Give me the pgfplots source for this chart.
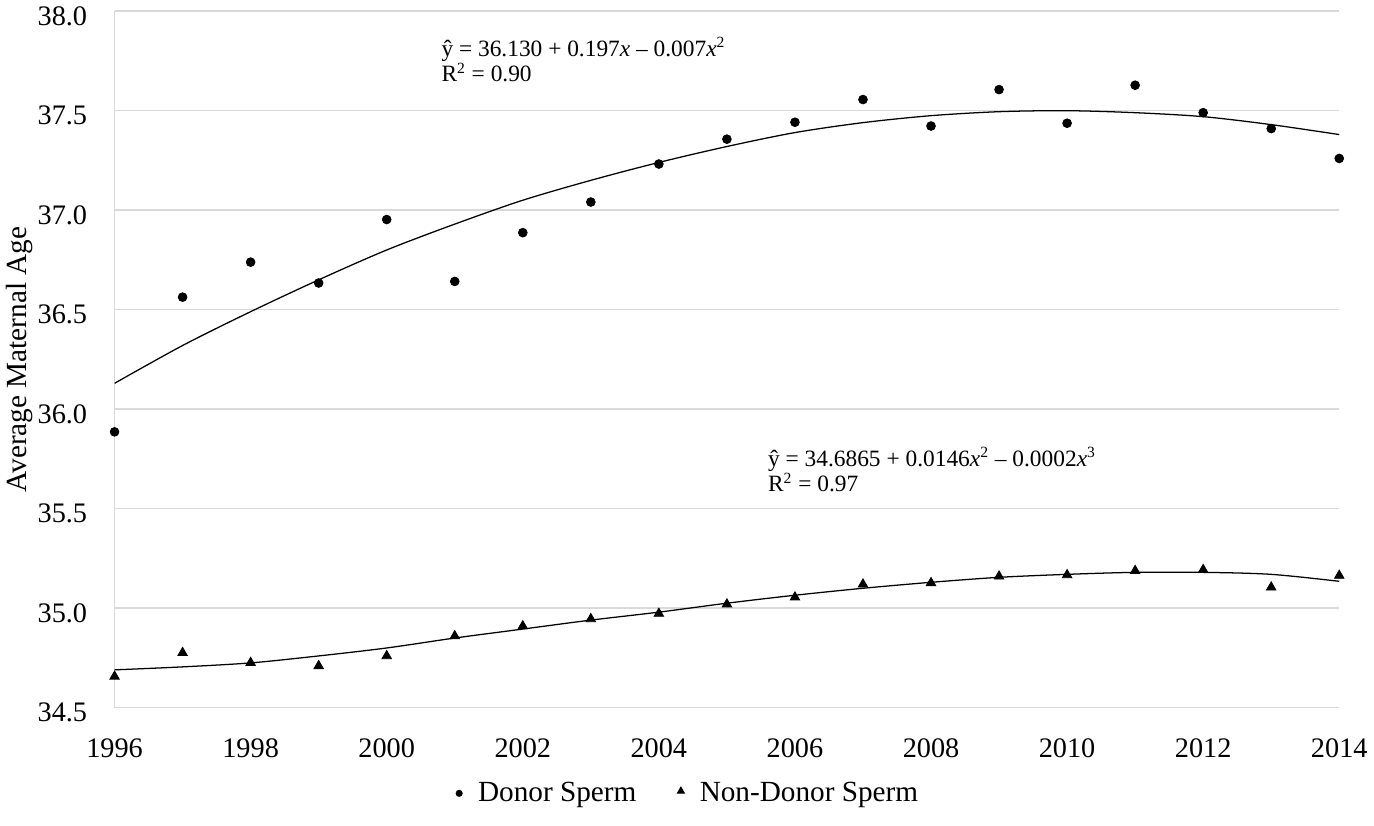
\documentclass[border=0pt]{standalone}
\usepackage{fontspec}
\setmainfont{Liberation Serif}
\usepackage{pgfplots}
\pgfplotsset{compat=1.18}
\definecolor{gridgray}{HTML}{D9D9D9}
\begin{document}
\begin{tikzpicture}
\begin{axis}[
  scale only axis, width=626bp, height=356bp,
  xmin=1996, xmax=2014, ymin=34.5, ymax=38.0,
  xtick={1996,1998,...,2014}, ytick={34.5,35.0,...,38.0},
  axis x line*=bottom, axis y line*=left,
  axis line style={-, draw=gridgray, line width=0.8pt},
  major tick length=0pt,
  ymajorgrids, grid style={draw=gridgray, line width=0.8pt},
  /pgf/number format/assume math mode=true,
  y tick label style={/tikz/xshift=-10.5bp, /tikz/yshift=-2.5bp, /pgf/number format/fixed, /pgf/number format/fixed zerofill, /pgf/number format/precision=1},
  x tick label style={/tikz/yshift=-12.5bp, /pgf/number format/1000 sep={}},
  ticklabel style={font=\fontsize{14.5}{16}\selectfont},
  ylabel={Average Maternal Age},
  ylabel shift=-4.5bp,
  ylabel style={font=\fontsize{15}{17}\selectfont},
  legend style={at={(0.467,-0.123)}, anchor=center, draw=none, fill=none,
    inner ysep=9bp,
    font=\fontsize{15}{17}\selectfont,
    /tikz/every even column/.append style={column sep=16.5bp}},
  legend columns=2,
]
% Donor sperm
\addplot[only marks, mark=*, mark size=2.25pt, black,
  legend image code/.code={\path[draw=none] (0cm,0cm) -- (0.42cm,0cm); \draw[mark size=1.6pt] plot coordinates {(0.15cm,0cm)};}] coordinates {
(1996,35.886) (1997,36.563) (1998,36.739) (1999,36.634) (2000,36.953)
(2001,36.642) (2002,36.887) (2003,37.041) (2004,37.232) (2005,37.357)
(2006,37.442) (2007,37.556) (2008,37.423) (2009,37.606) (2010,37.437)
(2011,37.628) (2012,37.490) (2013,37.410) (2014,37.260)};
\addlegendentry{Donor Sperm}
% Non-donor sperm
\addplot[only marks, mark=triangle*, mark size=2.8pt, black,
  legend image code/.code={\path[draw=none] (0cm,0cm) -- (0.42cm,0cm); \draw[mark size=2.1pt] plot coordinates {(0.15cm,0.04cm)};}] coordinates {
(1996,34.657) (1997,34.776) (1998,34.726) (1999,34.710) (2000,34.760)
(2001,34.860) (2002,34.910) (2003,34.946) (2004,34.973) (2005,35.020)
(2006,35.055) (2007,35.120) (2008,35.127) (2009,35.160) (2010,35.167)
(2011,35.188) (2012,35.193) (2013,35.105) (2014,35.164)};
\addlegendentry{Non-Donor Sperm}
% Trend lines
\addplot[black, line width=0.65pt, smooth, forget plot] coordinates {
(1996,36.130) (1997,36.320) (1998,36.490) (1999,36.650) (2000,36.800)
(2001,36.930) (2002,37.050) (2003,37.150) (2004,37.240) (2005,37.320)
(2006,37.390) (2007,37.440) (2008,37.475) (2009,37.495) (2010,37.500)
(2011,37.490) (2012,37.470) (2013,37.430) (2014,37.380)};
\addplot[black, line width=0.65pt, smooth, forget plot] coordinates {
(1996,34.690) (1997,34.705) (1998,34.725) (1999,34.760) (2000,34.800)
(2001,34.850) (2002,34.895) (2003,34.940) (2004,34.980) (2005,35.025)
(2006,35.065) (2007,35.100) (2008,35.130) (2009,35.155) (2010,35.170)
(2011,35.180) (2012,35.180) (2013,35.170) (2014,35.135)};
\node[anchor=north west, align=left, inner sep=0pt, font=\fontsize{12}{13}\selectfont]
  at (axis cs:2000.8,37.87)
  {ŷ = 36.130 + 0.197\textit{x} – 0.007\textit{x}\textsuperscript{2}\\R\textsuperscript{2} = 0.90};
\node[anchor=north west, align=left, inner sep=0pt, font=\fontsize{12}{13}\selectfont]
  at (axis cs:2005.6,35.81)
  {ŷ = 34.6865 + 0.0146\textit{x}\textsuperscript{2} – 0.0002\textit{x}\textsuperscript{3}\\R\textsuperscript{2} = 0.97};
\end{axis}
\end{tikzpicture}
\end{document}
